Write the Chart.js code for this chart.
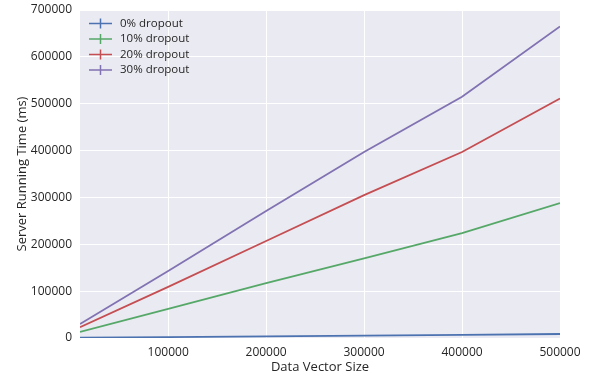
<!DOCTYPE html>
<html>
<head>
<meta charset="utf-8">
<script src="https://cdn.jsdelivr.net/npm/chart.js@4"></script>
<style>
  html, body { margin: 0; padding: 0; background: #fff; }
  #wrap { width: 596px; height: 376px; }
</style>
</head>
<body>
<div id="wrap"><canvas id="chart" width="596" height="376"></canvas></div>
<script>
// data
const sizes = [10000, 100000, 200000, 300000, 400000, 500000];
const drop0 = [1000, 2000, 3500, 5000, 6500, 8500];
const drop10 = [13000, 62000, 117000, 170000, 224000, 288000];
const drop20 = [23000, 109000, 207000, 305000, 397000, 511000];
const drop30 = [30000, 143000, 271000, 397000, 515000, 665000];
const seriesNames = ["0% dropout", "10% dropout", "20% dropout", "30% dropout"];
const xTicks = [100000, 200000, 300000, 400000, 500000];

const colors = ["#4C72B0", "#55A868", "#C44E52", "#8172B2"];
const txt = "#262626";
const font = "'Open Sans', 'DejaVu Sans', sans-serif";

function pts(ys) {
  return sizes.map((x, i) => ({ x: x, y: ys[i] }));
}

const bgPlugin = {
  id: "bg",
  beforeDraw(chart) {
    const a = chart.chartArea, c = chart.ctx;
    c.save();
    c.fillStyle = "#EAEAF2";
    c.fillRect(a.left, a.top, a.right - a.left, a.bottom - a.top);
    c.restore();
  }
};

// legend with errorbar-like "+" handles, top left inside the axes
const legendPlugin = {
  id: "crossLegend",
  afterDraw(chart) {
    const c = chart.ctx, a = chart.chartArea;
    c.save();
    c.font = "11.5px " + font;
    c.textBaseline = "middle";
    chart.data.datasets.forEach((ds, i) => {
      const y = a.top + 13.5 + i * 15.5;
      const x = a.left + 9;
      c.strokeStyle = ds.borderColor;
      c.lineWidth = 1.5;
      c.beginPath();
      c.moveTo(x, y); c.lineTo(x + 23, y);
      c.moveTo(x + 11.5, y - 5); c.lineTo(x + 11.5, y + 5);
      c.stroke();
      c.fillStyle = txt;
      c.fillText(ds.label, x + 31, y);
    });
    c.restore();
  }
};

const ctx = document.getElementById("chart").getContext("2d");
new Chart(ctx, {
  type: "line",
  data: {
    datasets: [drop0, drop10, drop20, drop30].map((d, i) => ({
      label: seriesNames[i],
      data: pts(d),
      borderColor: colors[i],
      backgroundColor: colors[i],
      borderWidth: 1.8,
      pointRadius: 0,
      tension: 0
    }))
  },
  options: {
    responsive: false,
    animation: false,
    layout: { padding: { left: 0, right: 36, top: 10, bottom: 0 } },
    plugins: { legend: { display: false }, tooltip: { enabled: false } },
    scales: {
      x: {
        type: "linear",
        min: 10000,
        max: 500000,
        afterBuildTicks(s) { s.ticks = xTicks.map(v => ({ value: v })); },
        afterFit(s) { s.height = 38; },
        grid: { color: "#fff", lineWidth: 1, drawTicks: false },
        border: { display: false },
        ticks: { color: txt, padding: 7, font: { family: font, size: 12 }, callback: v => String(v) },
        title: { display: true, text: "Data Vector Size", color: txt, font: { family: font, size: 13 }, padding: { top: 0, bottom: 1 } }
      },
      y: {
        min: 0,
        max: 700000,
        afterFit(s) { s.width = 80; s.paddingTop = 0; s.paddingBottom = 0; },
        grid: { color: "#fff", lineWidth: 1, drawTicks: false },
        border: { display: false },
        ticks: { color: txt, padding: 8, stepSize: 100000, font: { family: font, size: 12 }, callback: v => String(v) },
        title: { display: true, text: "Server Running Time (ms)", color: txt, font: { family: font, size: 13 }, padding: { top: 14, bottom: 0 } }
      }
    }
  },
  plugins: [bgPlugin, legendPlugin]
});
</script>
</body>
</html>
